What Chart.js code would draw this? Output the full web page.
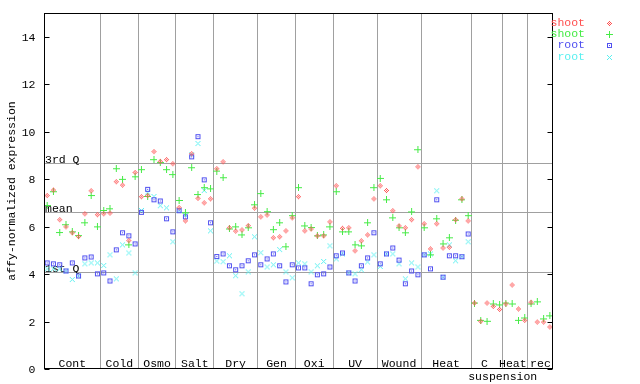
<!DOCTYPE html>
<html>
<head>
<meta charset="utf-8">
<title>affy-normalized expression</title>
<script src="https://cdn.jsdelivr.net/npm/chart.js@4.4.0/dist/chart.umd.min.js"></script>
<style type="text/css">
	body { margin: 0; background: #fff; }
</style>
</head>
<body>

<canvas id="exprChart" width="640" height="384"></canvas>

<script type="text/javascript">

// values per sample (81 samples, root has none after Heat)
var shootA = [7.31,7.54,6.29,5.99,5.74,5.58,6.54,7.51,6.50, 6.54,6.57,7.89,7.75,5.41,8.28, 7.26,7.31,9.16,8.75,8.82,8.65,
	6.80,6.24,9.07,7.19,7.00,7.17, 8.44,8.73,5.95,5.81,5.86,6.04,6.78, 6.41,6.49,5.53,5.57,5.82,6.37, 7.26,5.82,5.90,5.61,5.61,6.20,
	7.72,5.93,5.95,4.98,5.40,5.65,7.17, 7.72,7.52,6.67,6.03,5.95,6.29,8.52, 6.12,5.06,6.12,5.10,5.13,6.29,7.17,6.24,
	2.78,2.01,2.78,2.64,2.51, 2.74,3.54,2.53,2.05, 2.81,1.98,1.98,1.77];
var shootB = [6.89,7.47,5.75,6.08,5.78,5.62,6.16,7.31,5.99, 6.68,6.75,8.44,7.99,5.23,8.10, 8.40,7.27,8.82,8.70,8.40,8.19,
	7.10,6.58,8.48,7.35,7.64,7.59, 8.34,8.06,5.90,5.99,5.65,5.95,6.92, 7.39,6.63,5.87,6.16,5.15,6.46, 7.64,6.03,5.96,5.61,5.65,5.99,
	7.47,5.78,5.78,5.23,5.19,6.16,7.64, 8.03,7.13,6.37,5.95,5.74,6.62,9.24, 5.95,4.81,6.33,5.27,5.53,6.27,7.13,6.46,
	2.78,2.05,2.01,2.74,2.70, 2.78,2.74,2.05,2.15, 2.74,2.83,2.11,2.24];
var rootA = [4.47,4.43,4.39,4.13,4.47,3.92,4.68,4.72,4.01, 4.05,3.71,5.02,5.74,5.61,5.27, 6.60,7.57,7.13,7.08,6.33,5.78,
	6.67,6.41,8.94,9.79,7.97,6.16, 4.74,4.85,4.35,4.18,4.35,4.56,4.81, 4.39,4.64,4.85,4.35,3.67,4.39, 4.26,4.26,3.59,3.97,4.01,4.30,
	4.77,4.89,4.05,3.71,4.35,4.68,5.74, 4.43,4.85,5.10,4.59,3.59,4.13,3.97, 4.81,4.22,7.13,3.87,4.77,4.77,4.73,5.69];
var rootB = [4.22,4.22,4.22,4.13,3.77,3.92,4.43,4.47,4.47, 4.36,4.81,3.80,5.23,4.89,4.05, 6.68,7.45,7.27,6.88,6.79,5.36,
	6.68,6.48,9.03,9.50,7.52,5.82, 4.55,4.52,4.77,3.93,3.17,4.09,5.57, 4.90,4.30,4.39,5.03,4.09,3.84, 4.47,4.43,4.09,4.35,4.53,5.19,
	4.64,4.85,4.05,4.01,4.18,4.51,4.81, 4.32,4.85,4.85,4.43,3.80,4.47,4.30, 4.81,4.85,7.51,3.87,5.23,4.56,4.73,5.36];

var seriesNames = ['shoot', 'shoot', 'root', 'root'];
var sampleCount = 81;

// experiment groups: first sample index of each group
var groupStarts = [0, 9, 15, 21, 27, 34, 40, 46, 53, 60, 68, 73, 77];
var groupNames = ['Cont', 'Cold', 'Osmo', 'Salt', 'Dry', 'Gen', 'Oxi', 'UV', 'Wound', 'Heat', 'C', 'Heat', 'rec'];
var secondRowName = 'suspension';

var quartileValues = [8.68, 6.61, 4.08];
var quartileNames = ['3rd Q', 'mean', '1st Q'];
var yTicks = [0, 2, 4, 6, 8, 10, 12, 14];

var FONT = '11.5px "Liberation Mono"';
var colors = ['rgb(255,80,80)', 'rgb(70,235,70)', 'rgb(80,80,240)', 'rgb(90,240,240)'];

function makeMarker(kind, color) {
	var c = document.createElement('canvas');
	c.width = 7; c.height = 7;
	var g = c.getContext('2d');
	g.fillStyle = color;
	for (var dx = -3; dx <= 3; dx++) {
		for (var dy = -3; dy <= 3; dy++) {
			var ax = Math.abs(dx), ay = Math.abs(dy), on = false;
			if (kind === 'diamond') on = (ax + ay === 2 || ax + ay === 0);
			if (kind === 'square') on = (Math.max(ax, ay) === 2 || (ax === 0 && ay === 0));
			if (kind === 'plus') on = (dx === 0 || dy === 0);
			if (kind === 'cross') on = (ax === ay && ax <= 2);
			if (on) g.fillRect(3 + dx, 3 + dy, 1, 1);
		}
	}
	return c;
}

var markers = [makeMarker('diamond', colors[0]), makeMarker('plus', colors[1]),
	makeMarker('square', colors[2]), makeMarker('cross', colors[3])];

function toPoints(values) {
	var pts = [];
	for (var i = 0; i < values.length; i++) {
		if (values[i] != null) pts.push({ x: i + 0.5, y: values[i] });
	}
	return pts;
}

var datasets = [shootA, shootB, rootA, rootB].map(function (vals, i) {
	return {
		label: seriesNames[i],
		data: toPoints(vals),
		pointStyle: markers[i],
		pointRadius: 3,
		borderColor: colors[i],
		backgroundColor: colors[i],
		showLine: false
	};
});

var decorations = {
	id: 'decorations',
	beforeDatasetsDraw: function (chart) {
		var ctx = chart.ctx, area = chart.chartArea;
		var xs = chart.scales.x, ys = chart.scales.y;
		ctx.save();
		ctx.font = FONT;
		ctx.lineWidth = 1;
		// quartile lines with their names
		for (var i = 0; i < quartileValues.length; i++) {
			var py = Math.round(ys.getPixelForValue(quartileValues[i])) + 0.5;
			ctx.strokeStyle = '#a0a0a0';
			ctx.beginPath();
			ctx.moveTo(area.left, py);
			ctx.lineTo(area.right, py);
			ctx.stroke();
			ctx.fillStyle = '#000';
			ctx.textAlign = 'left';
			ctx.textBaseline = 'alphabetic';
			ctx.fillText(quartileNames[i], area.left + 1, py - 1);
		}
		// group names along the bottom
		ctx.textAlign = 'center';
		ctx.textBaseline = 'middle';
		for (var g = 0; g < groupNames.length; g++) {
			var end = g + 1 < groupStarts.length ? groupStarts[g + 1] : sampleCount;
			var cx = xs.getPixelForValue((groupStarts[g] + end) / 2);
			if (g >= 10 && g <= 11) cx -= 2.5;   // these two sit a little left in the original
			ctx.fillText(groupNames[g], cx, area.bottom - 5);
		}
		ctx.fillText(secondRowName, xs.getPixelForValue(groupStarts[11]), area.bottom + 8);
		ctx.restore();
	},
	afterDatasetsDraw: function (chart) {
		var ctx = chart.ctx, area = chart.chartArea;
		var ys = chart.scales.y;
		ctx.save();
		ctx.strokeStyle = '#000';
		ctx.lineWidth = 1;
		var l = Math.round(area.left) + 0.5, r = Math.round(area.right) - 0.5;
		var t = Math.round(area.top) + 0.5, b = Math.round(area.bottom) - 0.5;
		ctx.strokeRect(l, t, r - l, b - t);

		ctx.font = FONT;
		ctx.fillStyle = '#000';
		ctx.textAlign = 'right';
		ctx.textBaseline = 'middle';
		yTicks.forEach(function (v) {
			var py = Math.round(ys.getPixelForValue(v)) + 0.5;
			ctx.beginPath();
			ctx.moveTo(l, py); ctx.lineTo(l + 5, py);
			ctx.moveTo(r, py); ctx.lineTo(r - 5, py);
			ctx.stroke();
			ctx.fillText(String(v), l - 9, py);
		});

		// y axis title
		ctx.save();
		ctx.translate(12, (area.top + area.bottom) / 2);
		ctx.rotate(-Math.PI / 2);
		ctx.textAlign = 'center';
		ctx.fillText('affy-normalized expression', 0, 0);
		ctx.restore();

		// legend: coloured name, then its marker
		chart.data.datasets.forEach(function (ds, i) {
			var rowY = 23 + i * 11.2;
			ctx.fillStyle = colors[i];
			ctx.textAlign = 'right';
			ctx.fillText(ds.label, 585, rowY);
			ctx.drawImage(ds.pointStyle, 606, Math.round(rowY) - 3);
		});
		ctx.restore();
	}
};

var chartJS = new Chart(document.getElementById('exprChart').getContext('2d'), {
	type: 'scatter',
	data: { datasets: datasets },
	options: {
		responsive: false,
		animation: false,
		devicePixelRatio: 1,
		layout: { padding: { left: 44, top: 13, right: 87, bottom: 15 } },
		plugins: {
			legend: { display: false },
			tooltip: { enabled: false }
		},
		scales: {
			x: {
				type: 'linear',
				min: 0,
				max: sampleCount,
				afterBuildTicks: function (scale) {
					scale.ticks = groupStarts.slice(1).map(function (v) { return { value: v }; });
				},
				grid: { color: '#a0a0a0', drawTicks: false },
				border: { display: false },
				ticks: { display: false }
			},
			y: {
				min: 0,
				max: 15,
				grid: { display: false, drawTicks: false },
				border: { display: false },
				ticks: { display: false }
			}
		}
	},
	plugins: [decorations]
});

</script>

</body>
</html>
